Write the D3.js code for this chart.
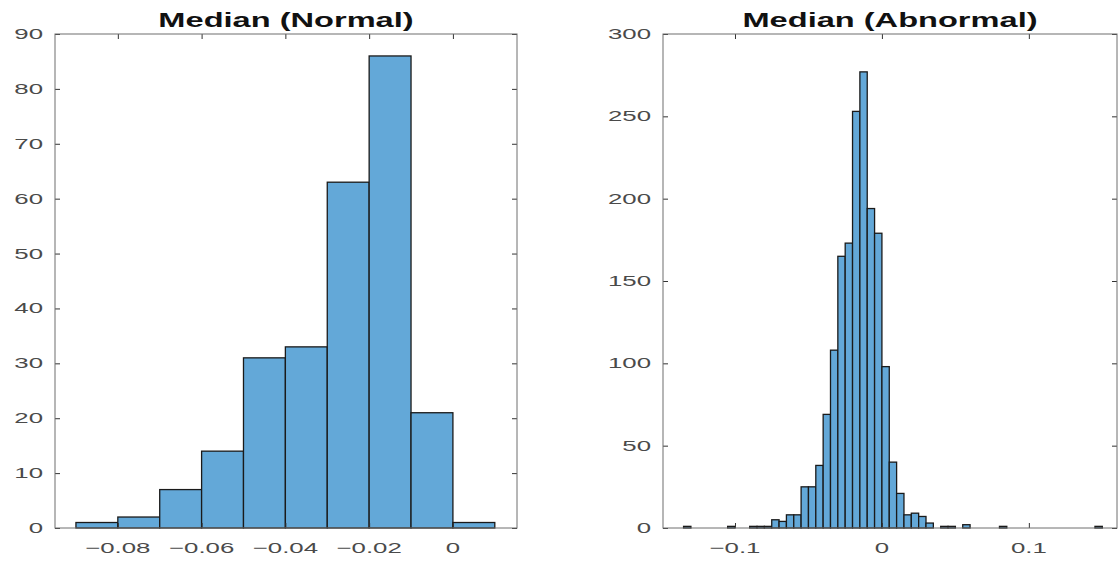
<!DOCTYPE html>
<html>
<head>
<meta charset="utf-8">
<script src="https://cdn.jsdelivr.net/npm/d3@7"></script>
<style>
  body { margin: 0; background: #fff; }
  svg { display: block; font-family: "Liberation Sans", Arial, sans-serif; }
</style>
</head>
<body>
<svg id="chart" width="1118" height="561"></svg>
<script>
// left panel: median of normal records, bins of 0.01
var normalEdges = [-0.09, -0.08, -0.07, -0.06, -0.05, -0.04, -0.03, -0.02, -0.01, 0];
var normalCounts = [1, 2, 7, 14, 31, 33, 63, 86, 21, 1];
var normalBinWidth = 0.01;
var normalXTicks = [-0.08, -0.06, -0.04, -0.02, 0];
var normalYTicks = [0, 10, 20, 30, 40, 50, 60, 70, 80, 90];

// right panel: median of abnormal records, bins of 0.005 (empty bins left out)
var abnormalEdges = [-0.135, -0.105, -0.09, -0.085, -0.08, -0.075, -0.07, -0.065, -0.06, -0.055,
    -0.05, -0.045, -0.04, -0.035, -0.03, -0.025, -0.02, -0.015, -0.01, -0.005,
    0, 0.005, 0.01, 0.015, 0.02, 0.025, 0.03, 0.04, 0.045, 0.055, 0.08, 0.145];
var abnormalCounts = [1, 1, 1, 1, 1, 5, 4, 8, 8, 25,
    25, 38, 69, 108, 165, 173, 253, 277, 194, 179,
    98, 40, 21, 8, 9, 7, 3, 1, 1, 2, 1, 1];
var abnormalBinWidth = 0.005;
var abnormalXTicks = [-0.1, 0, 0.1];
var abnormalYTicks = [0, 50, 100, 150, 200, 250, 300];

var svg = d3.select('#chart');
svg.append('rect').attr('width', 1118).attr('height', 561).attr('fill', '#fff');

var fmt = d3.format('~g');
var stretchLbl = 1.72;   // the picture is widened, text is too
var stretchTitle = 1.63;

function drawPanel(p) {
    var x = d3.scaleLinear().domain(p.xDomain).range([p.left, p.right]);
    var y = d3.scaleLinear().domain(p.yDomain).range([p.bottom, p.top]);
    var g = svg.append('g');

    // bars
    g.selectAll('rect.bar').data(p.edges).enter().append('rect')
        .attr('class', 'bar')
        .attr('x', function (d) { return x(d); })
        .attr('width', function (d) { return x(d + p.binWidth) - x(d); })
        .attr('y', function (d, i) { return y(p.counts[i]); })
        .attr('height', function (d, i) { return y(0) - y(p.counts[i]); })
        .style('fill', '#63a8d8')
        .style('stroke', '#1a1a1a')
        .style('stroke-width', 1.3);

    // inward ticks on four sides
    var axes = [
        [d3.axisBottom(x).tickValues(p.xTicks), 'translate(0,' + p.bottom + ')'],
        [d3.axisTop(x).tickValues(p.xTicks), 'translate(0,' + p.top + ')'],
        [d3.axisLeft(y).tickValues(p.yTicks), 'translate(' + p.left + ',0)'],
        [d3.axisRight(y).tickValues(p.yTicks), 'translate(' + p.right + ',0)']
    ];
    axes.forEach(function (a) {
        var ax = g.append('g').attr('transform', a[1])
            .call(a[0].tickSize(-5).tickSizeOuter(0).tickFormat(''));
        ax.select('.domain').remove();
        ax.selectAll('line').style('stroke', '#333');
    });

    // box
    g.append('rect')
        .attr('x', p.left).attr('y', p.top)
        .attr('width', p.right - p.left).attr('height', p.bottom - p.top)
        .style('fill', 'none').style('stroke', '#6e6e6e').style('stroke-width', 1);

    // tick labels
    g.selectAll('text.xl').data(p.xTicks).enter().append('text')
        .attr('class', 'xl')
        .attr('transform', function (d) { return 'translate(' + x(d) + ',' + (p.bottom + 25) + ') scale(' + stretchLbl + ',1)'; })
        .attr('text-anchor', 'middle')
        .style('font-size', '15px').style('fill', '#4a4a4a')
        .text(function (d) { return fmt(d); });

    g.selectAll('text.yl').data(p.yTicks).enter().append('text')
        .attr('class', 'yl')
        .attr('transform', function (d) { return 'translate(' + (p.left - 12) + ',' + (y(d) + 5) + ') scale(' + stretchLbl + ',1)'; })
        .attr('text-anchor', 'end')
        .style('font-size', '15px').style('fill', '#4a4a4a')
        .text(function (d) { return fmt(d); });

    // title
    g.append('text')
        .attr('transform', 'translate(' + ((p.left + p.right) / 2) + ',27) scale(' + stretchTitle + ',1)')
        .attr('text-anchor', 'middle')
        .style('font-size', '20px').style('font-weight', 'bold').style('fill', '#111')
        .text(p.title);
}

drawPanel({
    title: 'Median (Normal)',
    edges: normalEdges, counts: normalCounts, binWidth: normalBinWidth,
    xTicks: normalXTicks, yTicks: normalYTicks,
    xDomain: [-0.095, 0.0153], yDomain: [0, 90],
    left: 55, right: 517, top: 34, bottom: 528
});

drawPanel({
    title: 'Median (Abnormal)',
    edges: abnormalEdges, counts: abnormalCounts, binWidth: abnormalBinWidth,
    xTicks: abnormalXTicks, yTicks: abnormalYTicks,
    xDomain: [-0.149, 0.16], yDomain: [0, 300],
    left: 663, right: 1117, top: 34, bottom: 528
});
</script>
</body>
</html>
